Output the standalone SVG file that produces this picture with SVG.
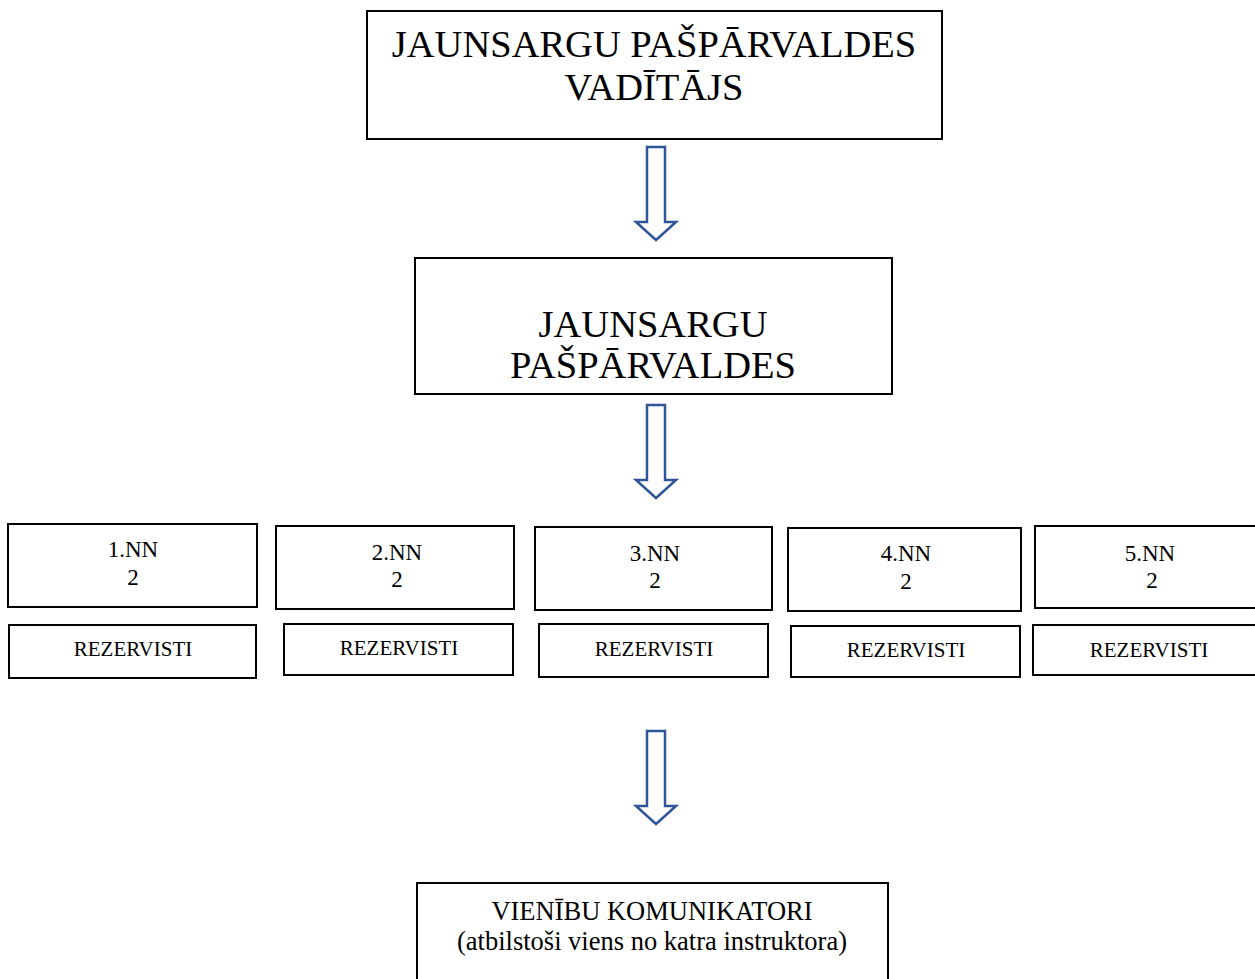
<svg xmlns="http://www.w3.org/2000/svg" width="1255" height="979" viewBox="0 0 1255 979">
<style>
.box{fill:#fff;stroke:#000;stroke-width:2}
.t{font-family:"Liberation Serif","Times New Roman",serif;fill:#000;text-anchor:middle}
.big{font-size:38.5px}
.mid{font-size:26.5px}
.sm{font-size:23px}
.xs{font-size:21px}
.arr{fill:#fff;stroke:#2F5597;stroke-width:2.5;stroke-linejoin:miter}
</style>
<defs>
<path id="down" d="M-9,0 H9 V75 H20 L0,93 L-20,75 H-9 Z"/>
</defs>
<rect width="1255" height="979" fill="#fff"/>
<g id="connectors">
<use href="#down" class="arr" x="656" y="147"/>
<use href="#down" class="arr" x="656" y="405"/>
<use href="#down" class="arr" x="656" y="731"/>
</g>
<g id="vaditajs">
<rect class="box" x="367" y="11" width="575" height="128"/>
<text class="t big" x="654" y="57">JAUNSARGU PAŠPĀRVALDES</text>
<text class="t big" x="654" y="100">VADĪTĀJS</text>
</g>
<g id="pasparvaldes">
<rect class="box" x="415" y="258" width="477" height="136"/>
<text class="t big" x="653" y="337">JAUNSARGU</text>
<text class="t big" x="653" y="378">PAŠPĀRVALDES</text>
</g>
<g id="nn1">
<rect class="box" x="8" y="524" width="249" height="83"/>
<text class="t sm" x="133" y="557">1.NN</text>
<text class="t sm" x="133" y="585">2</text>
</g>
<g id="nn2">
<rect class="box" x="276" y="526" width="238" height="83"/>
<text class="t sm" x="397" y="560">2.NN</text>
<text class="t sm" x="397" y="587">2</text>
</g>
<g id="nn3">
<rect class="box" x="535" y="527" width="237" height="83"/>
<text class="t sm" x="655" y="561">3.NN</text>
<text class="t sm" x="655" y="588">2</text>
</g>
<g id="nn4">
<rect class="box" x="788" y="528" width="233" height="83"/>
<text class="t sm" x="906" y="561">4.NN</text>
<text class="t sm" x="906" y="589">2</text>
</g>
<g id="nn5">
<rect class="box" x="1035" y="526" width="222" height="82"/>
<text class="t sm" x="1150" y="561">5.NN</text>
<text class="t sm" x="1152" y="588">2</text>
</g>
<g id="rez1">
<rect class="box" x="9" y="625" width="247" height="53"/>
<text class="t xs" x="133" y="656">REZERVISTI</text>
</g>
<g id="rez2">
<rect class="box" x="284" y="624" width="229" height="51"/>
<text class="t xs" x="399" y="655">REZERVISTI</text>
</g>
<g id="rez3">
<rect class="box" x="539" y="624" width="229" height="53"/>
<text class="t xs" x="654" y="656">REZERVISTI</text>
</g>
<g id="rez4">
<rect class="box" x="791" y="626" width="229" height="51"/>
<text class="t xs" x="906" y="657">REZERVISTI</text>
</g>
<g id="rez5">
<rect class="box" x="1033" y="625" width="224" height="50"/>
<text class="t xs" x="1149" y="657">REZERVISTI</text>
</g>
<g id="komunikatori">
<rect class="box" x="417" y="883" width="471" height="110"/>
<text class="t mid" x="652" y="920">VIENĪBU KOMUNIKATORI</text>
<text class="t mid" x="652" y="950">(atbilstoši viens no katra instruktora)</text>
</g>
</svg>
